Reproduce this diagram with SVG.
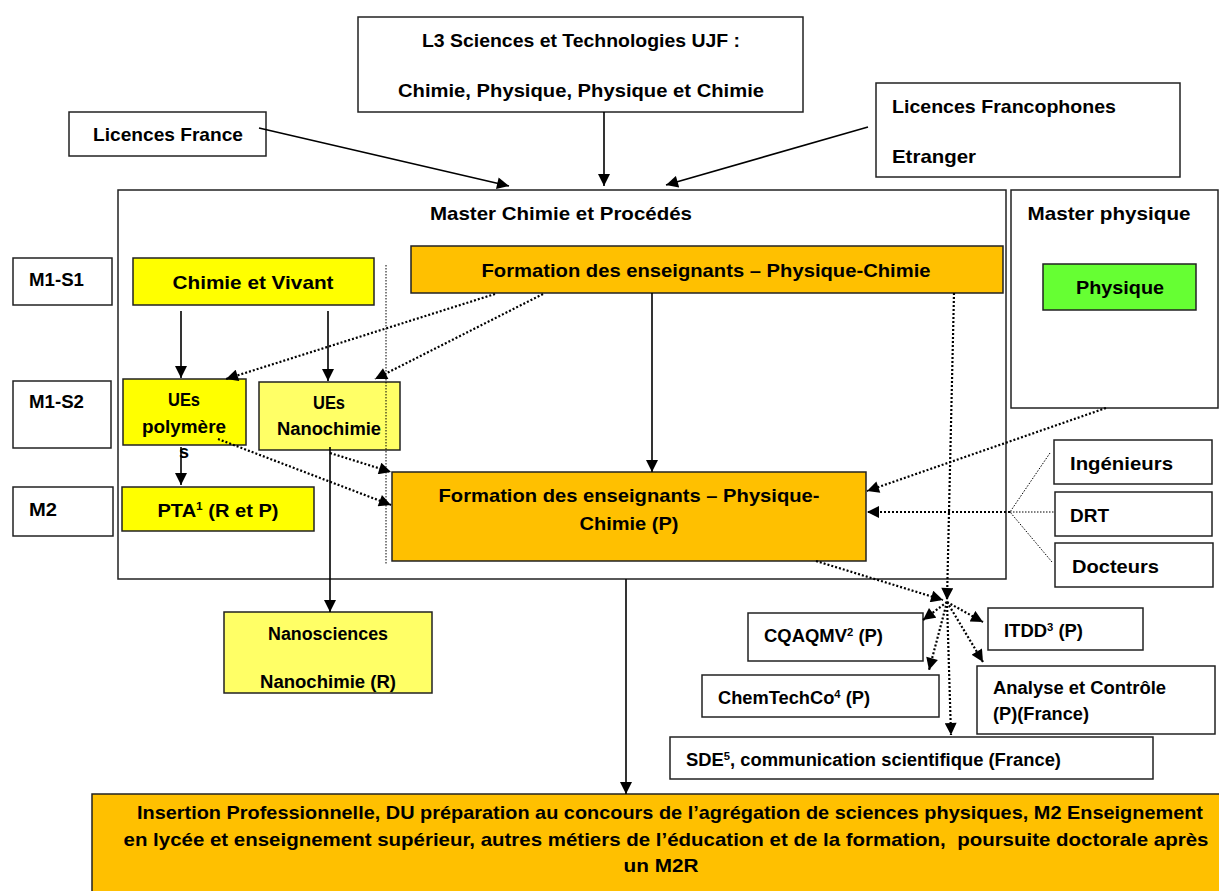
<svg xmlns="http://www.w3.org/2000/svg" width="1219" height="891" viewBox="0 0 1219 891">
<defs>
<style>
.b{fill:#fff;stroke:#222;stroke-width:1.5}
.y{fill:#FFFF00;stroke:#222;stroke-width:1.5}
.ly{fill:#FFFF66;stroke:#222;stroke-width:1.5}
.o{fill:#FFC000;stroke:#222;stroke-width:1.5}
.g{fill:#66FF33;stroke:#222;stroke-width:1.5}
text{font-family:"Liberation Sans",Arial,sans-serif;font-weight:bold;fill:#000;font-size:18.5px}
.s{font-size:18px}
.sol{fill:none;stroke:#000;stroke-width:1.6}
.dot{fill:none;stroke:#000;stroke-width:2.2;stroke-dasharray:2 2}
.thin{fill:none;stroke:#000;stroke-width:1;stroke-dasharray:1.5 1.5}
</style>
<marker id="ah" viewBox="0 0 10 10" refX="10" refY="5" markerWidth="13" markerHeight="12" markerUnits="userSpaceOnUse" orient="auto"><path d="M0,0 L10,5 L0,10 z" fill="#000"/></marker>
</defs>

<g id="bottom-box"><rect class="o" x="92" y="794" width="1140" height="110"/>
<text x="670" y="819" text-anchor="middle" textLength="1066" lengthAdjust="spacingAndGlyphs">Insertion Professionnelle, DU préparation au concours de l’agrégation de sciences physiques, M2 Enseignement</text>
<text x="666" y="846" text-anchor="middle" textLength="1085" lengthAdjust="spacingAndGlyphs">en lycée et enseignement supérieur, autres métiers de l’éducation et de la formation,&#160; poursuite doctorale après</text>
<text x="661" y="872" text-anchor="middle" textLength="75" lengthAdjust="spacingAndGlyphs">un M2R</text></g>

<g id="master-chimie"><rect class="b" x="118" y="190" width="888" height="389"/>
<text x="561" y="220" text-anchor="middle" textLength="262" lengthAdjust="spacingAndGlyphs">Master Chimie et Procédés</text></g>

<g id="master-physique"><rect class="b" x="1011" y="190" width="207" height="218"/>
<text x="1109" y="220" text-anchor="middle" textLength="163" lengthAdjust="spacingAndGlyphs">Master physique</text></g>

<g id="physique"><rect class="g" x="1043" y="264" width="153" height="46"/>
<text x="1120" y="294" text-anchor="middle" textLength="88" lengthAdjust="spacingAndGlyphs">Physique</text></g>

<g id="l3"><rect class="b" x="358" y="17" width="445" height="95"/>
<text x="581" y="47" text-anchor="middle" textLength="318" lengthAdjust="spacingAndGlyphs">L3 Sciences et Technologies UJF :</text>
<text x="581" y="97" text-anchor="middle" textLength="366" lengthAdjust="spacingAndGlyphs">Chimie, Physique, Physique et Chimie</text></g>

<g id="licences-france"><rect class="b" x="69" y="112" width="197" height="44"/>
<text x="168" y="141" text-anchor="middle" textLength="150" lengthAdjust="spacingAndGlyphs">Licences France</text></g>

<g id="licences-francophones"><rect class="b" x="876" y="83" width="304" height="94"/>
<text x="892" y="113" textLength="224" lengthAdjust="spacingAndGlyphs">Licences Francophones</text>
<text x="892" y="163" textLength="84" lengthAdjust="spacingAndGlyphs">Etranger</text></g>

<g id="m1s1"><rect class="b" x="13" y="258" width="99" height="47"/>
<text x="29" y="286" textLength="55" lengthAdjust="spacingAndGlyphs">M1-S1</text></g>
<g id="m1s2"><rect class="b" x="13" y="381" width="98" height="67"/>
<text x="29" y="408" textLength="55" lengthAdjust="spacingAndGlyphs">M1-S2</text></g>
<g id="m2"><rect class="b" x="13" y="487" width="100" height="49"/>
<text x="29" y="516" textLength="28" lengthAdjust="spacingAndGlyphs">M2</text></g>

<g id="chimie-vivant"><rect class="y" x="133" y="258" width="241" height="47"/>
<text x="253" y="289" text-anchor="middle" textLength="161" lengthAdjust="spacingAndGlyphs">Chimie et Vivant</text></g>

<g id="formation-top"><rect class="o" x="411" y="246" width="592" height="47"/>
<text x="706" y="277" text-anchor="middle" textLength="449" lengthAdjust="spacingAndGlyphs">Formation des enseignants – Physique-Chimie</text></g>

<g id="ues-polymere"><rect class="y" x="123" y="379" width="123" height="66"/>
<text x="184" y="406" text-anchor="middle" class="s" textLength="32" lengthAdjust="spacingAndGlyphs">UEs</text>
<text x="184" y="433" text-anchor="middle" class="s" textLength="84" lengthAdjust="spacingAndGlyphs">polymère</text>
<text x="184" y="458" text-anchor="middle" class="s">s</text></g>

<g id="ues-nanochimie"><rect class="ly" x="259" y="382" width="141" height="68"/>
<text x="329" y="409" text-anchor="middle" class="s" textLength="32" lengthAdjust="spacingAndGlyphs">UEs</text>
<text x="329" y="435" text-anchor="middle" class="s" textLength="104" lengthAdjust="spacingAndGlyphs">Nanochimie</text></g>

<g id="pta"><rect class="y" x="122" y="487" width="192" height="44"/>
<text x="218" y="517" text-anchor="middle" textLength="121" lengthAdjust="spacingAndGlyphs">PTA<tspan font-size="11" dy="-7">1</tspan><tspan dy="7"> (R et P)</tspan></text></g>

<g id="formation-bottom"><rect class="o" x="392" y="472" width="474" height="89"/>
<text x="629" y="502" text-anchor="middle" textLength="381" lengthAdjust="spacingAndGlyphs">Formation des enseignants – Physique-</text>
<text x="629" y="530" text-anchor="middle" textLength="99" lengthAdjust="spacingAndGlyphs">Chimie (P)</text></g>

<g id="ingenieurs"><rect class="b" x="1054" y="440" width="158" height="44"/>
<text x="1070" y="470" textLength="103" lengthAdjust="spacingAndGlyphs">Ingénieurs</text></g>
<g id="drt"><rect class="b" x="1055" y="492" width="157" height="44"/>
<text x="1070" y="522" textLength="39" lengthAdjust="spacingAndGlyphs">DRT</text></g>
<g id="docteurs"><rect class="b" x="1055" y="543" width="158" height="44"/>
<text x="1072" y="573" textLength="87" lengthAdjust="spacingAndGlyphs">Docteurs</text></g>

<g id="nanosciences"><rect class="ly" x="224" y="612" width="208" height="81"/>
<text x="328" y="640" text-anchor="middle" class="s" textLength="120" lengthAdjust="spacingAndGlyphs">Nanosciences</text>
<text x="328" y="688" text-anchor="middle" class="s" textLength="136" lengthAdjust="spacingAndGlyphs">Nanochimie (R)</text></g>

<g id="cqaqmv"><rect class="b" x="748" y="613" width="175" height="48"/>
<text x="764" y="642" class="s" textLength="119" lengthAdjust="spacingAndGlyphs">CQAQMV<tspan font-size="11" dy="-6">2</tspan><tspan dy="6"> (P)</tspan></text></g>
<g id="itdd"><rect class="b" x="988" y="608" width="155" height="42"/>
<text x="1004" y="637" class="s" textLength="79" lengthAdjust="spacingAndGlyphs">ITDD<tspan font-size="11" dy="-6">3</tspan><tspan dy="6"> (P)</tspan></text></g>
<g id="chemtechco"><rect class="b" x="702" y="675" width="237" height="42"/>
<text x="718" y="704" class="s" textLength="152" lengthAdjust="spacingAndGlyphs">ChemTechCo<tspan font-size="11" dy="-6">4</tspan><tspan dy="6"> (P)</tspan></text></g>
<g id="analyse"><rect class="b" x="977" y="666" width="238" height="68"/>
<text x="993" y="694" class="s" textLength="173" lengthAdjust="spacingAndGlyphs">Analyse et Contrôle</text>
<text x="993" y="720" class="s" textLength="96" lengthAdjust="spacingAndGlyphs">(P)(France)</text></g>
<g id="sde"><rect class="b" x="670" y="737" width="483" height="42"/>
<text x="686" y="766" class="s" textLength="375" lengthAdjust="spacingAndGlyphs">SDE<tspan font-size="11" dy="-6">5</tspan><tspan dy="6">, communication scientifique (France)</tspan></text></g>

<g id="connectors">
<path class="thin" d="M386,265 L386,564"/>
<path class="sol" d="M604,112 L604,186" marker-end="url(#ah)"/>
<path class="sol" d="M259,128 L509,186" marker-end="url(#ah)"/>
<path class="sol" d="M868,127 L666,185" marker-end="url(#ah)"/>
<path class="sol" d="M181,311 L181,378" marker-end="url(#ah)"/>
<path class="sol" d="M328,311 L328,381" marker-end="url(#ah)"/>
<path class="sol" d="M181,447 L181,485" marker-end="url(#ah)"/>
<path class="dot" d="M495,294 L226,379" marker-end="url(#ah)"/>
<path class="dot" d="M543,294 L375,379" marker-end="url(#ah)"/>
<path class="sol" d="M652,293 L652,472" marker-end="url(#ah)"/>
<path class="dot" d="M218,439 L391,505" marker-end="url(#ah)"/>
<path class="dot" d="M330,453 L391,472" marker-end="url(#ah)"/>
<path class="sol" d="M330,447 L330,612" marker-end="url(#ah)"/>
<path class="dot" d="M1106,408 L867,491" marker-end="url(#ah)"/>
<path class="dot" d="M1010,512 L867,512" marker-end="url(#ah)"/>
<path class="thin" d="M1050,453 L1010,512 L1052,562 M1010,512 L1055,512"/>
<path class="dot" d="M954,293 L947,600" marker-end="url(#ah)"/>
<path class="dot" d="M816,561 L943,600" marker-end="url(#ah)"/>
<path class="dot" d="M947,602 L923,620" marker-end="url(#ah)"/>
<path class="dot" d="M947,602 L983,622" marker-end="url(#ah)"/>
<path class="dot" d="M947,602 L929,670" marker-end="url(#ah)"/>
<path class="dot" d="M947,602 L983,662" marker-end="url(#ah)"/>
<path class="dot" d="M947,602 L951,735" marker-end="url(#ah)"/>
<path class="sol" d="M626,579 L626,794" marker-end="url(#ah)"/>
</g>
</svg>
